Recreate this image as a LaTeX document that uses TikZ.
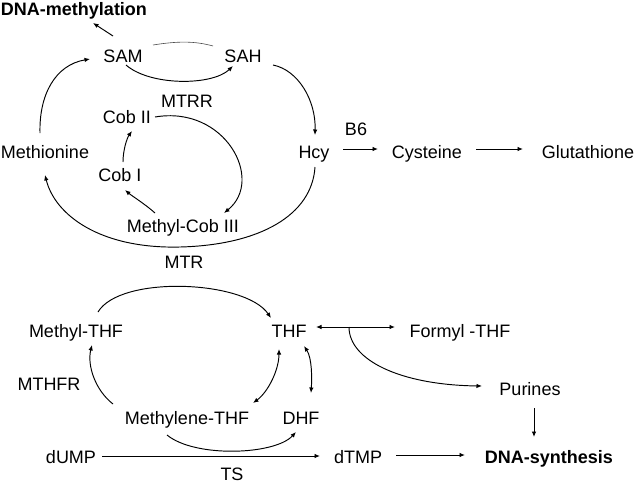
\documentclass[tikz,border=0pt]{standalone}
\usepackage{fontspec}
\setmainfont{Liberation Sans}
\usetikzlibrary{arrows.meta,calc}
\tikzset{
  lbl/.style={inner sep=0pt,text height=12.9pt,text depth=0pt,font=\fontsize{18}{21}\selectfont},
  blbl/.style={lbl,font=\fontsize{18}{21}\selectfont\bfseries},
  conn/.style={line width=0.95pt,-{Latex[length=5.5pt,width=4.5pt]}},
  dconn/.style={line width=0.95pt,{Latex[length=5.5pt,width=4.5pt]}-{Latex[length=5.5pt,width=4.5pt]}},
  thin/.style={line width=0.6pt,draw=black!70}
}
\begin{document}
\begin{tikzpicture}[x=1pt,y=-1pt]
\useasboundingbox (0,0) rectangle (635,483);
% nodes
\node[blbl] (dnam) at (74,9) {DNA-methylation};
\node[lbl] (sam) at (123,56) {SAM};
\node[lbl] (sah) at (243,56) {SAH};
\node[lbl] (mtrr) at (187,101) {MTRR};
\node[lbl] (cob2) at (127,117) {Cob II};
\node[lbl] (cob1) at (120,175) {Cob I};
\node[lbl] (meth) at (45,152) {Methionine};
\node[lbl] (hcy) at (314,152) {Hcy};
\node[lbl] (b6) at (356,129) {B6};
\node[lbl] (cys) at (427,152) {Cysteine};
\node[lbl] (glu) at (588,152) {Glutathione};
\node[lbl] (mcob) at (183,226) {Methyl-Cob III};
\node[lbl] (mtr) at (184,262) {MTR};
\node[lbl] (mthf) at (76,331) {Methyl-THF};
\node[lbl] (thf) at (289,331) {THF};
\node[lbl] (formyl) at (460,331) {Formyl -THF};
\node[lbl] (mthfr) at (49,384) {MTHFR};
\node[lbl] (mene) at (187,418) {Methylene-THF};
\node[lbl] (dhf) at (301,418) {DHF};
\node[lbl] (pur) at (530,389) {Purines};
\node[lbl] (dump) at (71,457) {dUMP};
\node[lbl] (dtmp) at (358,457) {dTMP};
\node[blbl] (dnas) at (549,457) {DNA-synthesis};
\node[lbl] (ts) at (232,474) {TS};
% upper cycle
\draw[conn] ($(sam)+(-10,-20)$) -- ($(dnam)+(19,14)$);
\draw[thin] ($(sam)+(30,-11)$) .. controls (178,41) and (195,41) .. ($(sah)+(-30,-10)$);
\draw[conn] ($(sam)+(3,9)$) .. controls (150,86) and (212,86) .. ($(sah)+(-10,10)$);
\draw[conn] ($(sah)+(30,9)$) .. controls (298,70) and (316,100) .. ($(hcy)+(1,-17)$);
\draw[conn] ($(meth)+(-5,-19)$) .. controls (39,95) and (55,65) .. ($(sam)+(-33,3)$);
\draw[conn] ($(hcy)+(1,15)$) .. controls (312,215) and (260,245) .. (180,247)
   .. controls (100,249) and (55,215) .. ($(meth)+(0,23)$);
\draw[conn] ($(cob2)+(28,0)$) .. controls (225,105) and (265,180) .. ($(mcob)+(41,-13)$);
\draw[conn] ($(mcob)+(-28,-13)$) .. controls (145,204) and (132,196) .. ($(cob1)+(5,15)$);
\draw[conn] ($(cob1)+(3,-13)$) .. controls (123,150) and (127,138) .. ($(cob2)+(5,14)$);
\draw[conn] ($(hcy)+(29,-3)$) -- ($(cys)+(-49,-3)$);
\draw[conn] ($(cys)+(49,-3)$) -- ($(glu)+(-65,-3)$);
% folate cycle
\draw[conn] ($(mthf)+(22,-19)$) .. controls (120,275) and (245,280) .. ($(thf)+(-18,-13)$);
\draw[conn] ($(mene)+(-74,-14)$) .. controls (95,390) and (87,365) .. ($(mthf)+(16,14)$);
\draw[dconn] ($(thf)+(-10,18)$) .. controls (279,370) and (268,392) .. ($(mene)+(66,-15)$);
\draw[dconn] ($(thf)+(15,15)$) .. controls (312,358) and (312,378) .. ($(dhf)+(10,-25)$);
\draw[conn] ($(dump)+(31,-1)$) -- ($(dtmp)+(-38,-1)$);
\draw[conn] ($(mene)+(-20,17)$) .. controls (195,458) and (275,455) .. ($(dhf)+(-5,14)$);
\draw[conn] ($(dtmp)+(38,-2)$) -- ($(dnas)+(-84,-2)$);
\draw[dconn] ($(thf)+(27,-4)$) -- ($(formyl)+(-65,-4)$);
\coordinate (br) at ($(thf)+(60,-4)$);
\draw[conn] (br) .. controls (349,360) and (400,385) .. ($(pur)+(-48,-3)$);
\draw[conn] ($(pur)+(4,19)$) -- ($(dnas)+(-15,-20)$);
\end{tikzpicture}
\end{document}
